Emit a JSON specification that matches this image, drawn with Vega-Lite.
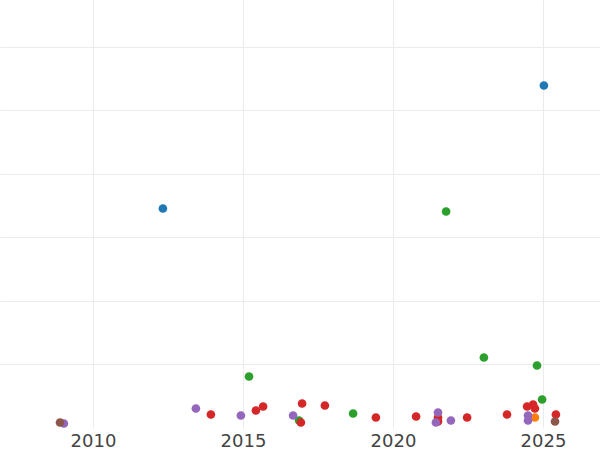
{
  "$schema": "https://vega.github.io/schema/vega-lite/v6.json",
  "width": 600,
  "height": 428,
  "autosize": "none",
  "padding": {"top": 0, "left": 0, "right": 0, "bottom": 22},
  "background": "white",
  "config": {"view": {"stroke": null}},
  "data": {"values": [
    {"year": 2012.33, "value": 34.57, "group": "A"},
    {"year": 2025.03, "value": 53.94, "group": "A"},
    {"year": 2024.73, "value": 1.65, "group": "B"},
    {"year": 2021.77, "value": 34.10, "group": "C"},
    {"year": 2015.2, "value": 8.11, "group": "C"},
    {"year": 2023.03, "value": 11.10, "group": "C"},
    {"year": 2024.8, "value": 9.84, "group": "C"},
    {"year": 2024.97, "value": 4.49, "group": "C"},
    {"year": 2018.67, "value": 2.28, "group": "C"},
    {"year": 2016.87, "value": 1.18, "group": "C"},
    {"year": 2013.93, "value": 2.13, "group": "D"},
    {"year": 2015.43, "value": 2.76, "group": "D"},
    {"year": 2015.67, "value": 3.39, "group": "D"},
    {"year": 2016.93, "value": 0.87, "group": "D"},
    {"year": 2016.97, "value": 3.86, "group": "D"},
    {"year": 2017.73, "value": 3.54, "group": "D"},
    {"year": 2019.43, "value": 1.65, "group": "D"},
    {"year": 2020.77, "value": 1.81, "group": "D"},
    {"year": 2021.5, "value": 1.65, "group": "D"},
    {"year": 2021.5, "value": 1.02, "group": "D"},
    {"year": 2022.47, "value": 1.65, "group": "D"},
    {"year": 2023.8, "value": 2.13, "group": "D"},
    {"year": 2024.47, "value": 3.39, "group": "D"},
    {"year": 2024.67, "value": 3.70, "group": "D"},
    {"year": 2024.73, "value": 3.07, "group": "D"},
    {"year": 2025.43, "value": 2.13, "group": "D"},
    {"year": 2009.03, "value": 0.71, "group": "E"},
    {"year": 2013.43, "value": 3.07, "group": "E"},
    {"year": 2014.93, "value": 1.97, "group": "E"},
    {"year": 2016.67, "value": 1.97, "group": "E"},
    {"year": 2021.5, "value": 2.44, "group": "E"},
    {"year": 2021.43, "value": 0.87, "group": "E"},
    {"year": 2021.93, "value": 1.18, "group": "E"},
    {"year": 2024.5, "value": 1.97, "group": "E"},
    {"year": 2024.5, "value": 1.18, "group": "E"},
    {"year": 2008.9, "value": 0.87, "group": "F"},
    {"year": 2025.4, "value": 1.02, "group": "F"}
  ]},
  "mark": {"type": "circle", "size": 75, "opacity": 1},
  "encoding": {
    "x": {
      "field": "year", "type": "quantitative",
      "scale": {"domain": [2006.9, 2026.9], "nice": false, "zero": false},
      "axis": {
        "title": null, "values": [2010, 2015, 2020, 2025], "format": "d",
        "domain": false, "ticks": false,
        "labelFont": "DejaVu Sans", "labelFontSize": 18, "labelColor": "#444444",
        "labelPadding": 4, "gridColor": "#ebebeb", "gridWidth": 1
      }
    },
    "y": {
      "field": "value", "type": "quantitative",
      "scale": {"domain": [0, 67.4], "nice": false},
      "axis": {
        "title": null, "values": [10, 20, 30, 40, 50, 60],
        "labels": false, "domain": false, "ticks": false,
        "gridColor": "#ebebeb", "gridWidth": 1
      }
    },
    "color": {
      "field": "group", "type": "nominal", "legend": null,
      "scale": {"domain": ["A", "B", "C", "D", "E", "F"],
                "range": ["#1f77b4", "#ff7f0e", "#2ca02c", "#d62728", "#9467bd", "#8c564b"]}
    }
  }
}
